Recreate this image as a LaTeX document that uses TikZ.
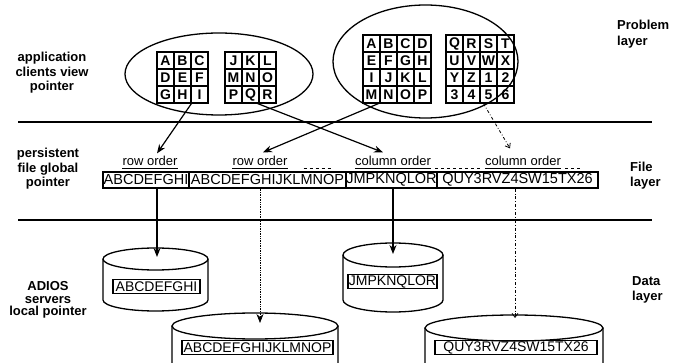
\documentclass[tikz,border=0pt]{standalone}
\usepackage{fontspec}
\setmainfont{Liberation Sans}
\usetikzlibrary{arrows.meta,calc}
\newcommand{\mycyl}[5]{%
  \draw[cyl, fill=white] ({#1-#3},#2) -- ({#1-#3},{#2+#5})
     arc[start angle=180, end angle=360, x radius=#3pt, y radius=#4pt] -- ({#1+#3},#2);
  \draw[cyl, fill=white] (#1,#2) ellipse [x radius=#3pt, y radius=#4pt];
}
\begin{document}
\begin{tikzpicture}[x=1pt,y=-1pt,
  lab/.style={font=\fontsize{13}{14.5}\selectfont\bfseries, align=center, inner sep=0pt},
  rlab/.style={font=\fontsize{13}{15.5}\selectfont\bfseries, align=left, anchor=west, inner sep=0pt},
  cell/.style={draw, line width=1.1pt, minimum width=17pt, minimum height=17pt, inner sep=0pt, font=\fontsize{14}{14}\selectfont\bfseries},
  seg/.style={draw, line width=1.1pt, minimum height=16pt, inner sep=0pt, font=\fontsize{14.5}{14.5}\selectfont},
  dbox/.style={draw, line width=1.3pt, minimum height=14pt, inner sep=0pt, font=\fontsize{14}{14}\selectfont},
  ord/.style={font=\fontsize{13}{13}\selectfont, inner sep=0pt, anchor=base},
  arr/.style={line width=1.2pt, -{Stealth[length=9pt,width=7pt]}},
  varr/.style={line width=0.8pt, dashdotted, -{Straight Barb[length=4pt,width=6pt]}},
  cyl/.style={line width=1.3pt},
  sepline/.style={line width=1.6pt},
  oval/.style={line width=1.3pt},
]
\useasboundingbox (0,0) rectangle (680,363);
\clip (0,0) rectangle (680,363);

% layer separators
\draw[sepline] (18,122) -- (652,122);
\draw[sepline] (18,220) -- (652,220);

% problem layer ellipses
\draw[oval] (219,74) ellipse [x radius=94pt, y radius=41pt];
\draw[oval] (425.5,61.5) ellipse [x radius=92.5pt, y radius=56.5pt];

% grids
\foreach \t/\c/\r in {A/0/0,B/1/0,C/2/0,D/0/1,E/1/1,F/2/1,G/0/2,H/1/2,I/2/2}
  \node[cell] (ga-\t) at ({165.5+17*\c},{60.5+17*\r}) {\t};
\foreach \t/\c/\r in {J/0/0,K/1/0,L/2/0,M/0/1,N/1/1,O/2/1,P/0/2,Q/1/2,R/2/2}
  \node[cell] (gb-\t) at ({233.5+17*\c},{60.5+17*\r}) {\t};
\foreach \t/\c/\r in {A/0/0,B/1/0,C/2/0,D/3/0,E/0/1,F/1/1,G/2/1,H/3/1,I/0/2,J/1/2,K/2/2,L/3/2,M/0/3,N/1/3,O/2/3,P/3/3}
  \node[cell] (gc-\t) at ({371.5+17*\c},{43.5+17*\r}) {\t};
\foreach \t/\c/\r in {Q/0/0,R/1/0,S/2/0,T/3/0,U/0/1,V/1/1,W/2/1,X/3/1,Y/0/2,Z/1/2,1/2/2,2/3/2,3/0/3,4/1/3,5/2/3,6/3/3}
  \node[cell] (gd-\t) at ({454.5+17*\c},{43.5+17*\r}) {\t};

% left labels
\node[lab] (al) at (52,73) {application\\clients view\\pointer};
\node[lab] (pf) at (48,169) {persistent\\file global\\pointer};
\node[lab, font=\fontsize{13}{12.5}\selectfont\bfseries] (ad) at (48,300) {ADIOS\\servers\\local pointer};

% right labels
\node[rlab] (pl) at (617,34) {Problem\\layer};
\node[rlab] (fl) at (630,175.5) {File\\layer};
\node[rlab] (dl) at (632,290) {Data\\layer};

% file layer
\node[seg, minimum width=86pt] (s1) at (146,180) {ABCDEFGHI};
\node[seg, minimum width=157pt] (s2) at (267.5,180) {ABCDEFGHIJKLMNOP};
\node[seg, minimum width=91pt] (s3) at (391.5,180) {JMPKNQLOR};
\node[seg, minimum width=161pt] (s4) at (517.5,180) {QUY3RVZ4SW15TX26};

\node[ord] (o1) at (150,166) {row order};
\node[ord] (o2) at (260,166) {row order};
\node[ord] (o3) at (393,166) {column order};
\node[ord] (o4) at (523,166) {column order};
\foreach \n in {o1,o2,o3,o4}
  \draw[line width=0.8pt] ($(\n.base west)+(0,2)$) -- ($(\n.base east)+(0,2)$);
\draw[dashed, line width=0.6pt] ($(o2.base east)+(16,2)$) -- ($(o2.base east)+(43,2)$);
\draw[dashed, line width=0.6pt] ($(o3.base east)+(4,2)$) -- ($(o4.base west)+(-3,2)$);
\draw[dashed, line width=0.6pt] ($(o4.base east)+(4,2)$) -- ($(o4.base east)+(19,2)$);

% data layer cylinders
\mycyl{155.5}{259}{52.5}{11}{41}
\mycyl{393}{255}{50}{12}{45}
\mycyl{255}{326}{83}{13}{45}
\mycyl{514}{328}{89}{13}{45}

\node[dbox, minimum width=87pt] (d1) at (156.5,286.5) {ABCDEFGHI};
\node[dbox, minimum width=151pt] (d2) at (257.5,347.5) {ABCDEFGHIJKLMNOP};
\node[dbox, minimum width=89pt] (d3) at (392.5,281.5) {JMPKNQLOR};
\node[dbox, minimum width=162pt] (d4) at (516,347.5) {QUY3RVZ4SW15TX26};

\coordinate (c1top) at (157,257);
\coordinate (c2top) at (260,323);
\coordinate (c3top) at (393,254);
\coordinate (c4top) at (515,318);

% vertical connectors
\draw[arr] (s1.south -| c1top) -- (c1top);
\draw[arr, line width=0.7pt, densely dotted] (s2.south -| c2top) -- (c2top);
\draw[arr] (s3.south -| c3top) -- (c3top);
\draw[varr] (s4.south -| c4top) -- (c4top);

% diagonal connectors
\draw[arr] ($(ga-I.south west)+(1,0)$) -- ($(o1.north)+(7,-3)$);
\draw[arr] ($(gb-Q.south east)+(-2,0)$) -- ($(o3.north)+(-10,-4)$);
\draw[arr] ($(gc-M.south east)+(-2,0)$) -- ($(o2.north)+(3,-4)$);
\draw[varr] ($(gd-5.south west)+(4,0)$) -- ($(o4.north)+(-13,-8)$);
\end{tikzpicture}
\end{document}
